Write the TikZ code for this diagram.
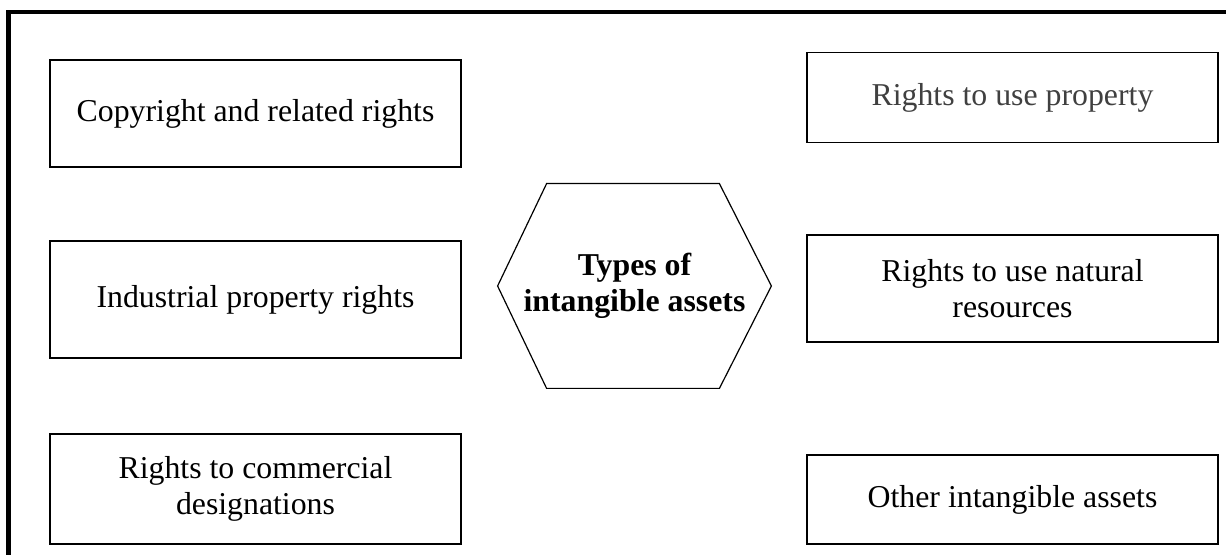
\documentclass[tikz,border=0pt]{standalone}
\usepackage{fontspec}
\setmainfont{Liberation Serif}
\usepackage{tikz}
\usetikzlibrary{calc}

\definecolor{softgray}{HTML}{404040}
\tikzset{
  kind/.style = {draw, line width = 0.75pt, minimum width = 205.5pt, inner sep = 0pt, align = center, font = \fontsize{15.9}{18.2}\selectfont},
  hexlabel/.style = {minimum width = 136.5pt, minimum height = 102pt, inner sep = 0pt, align = center, font = \fontsize{15.9}{18.2}\selectfont\bfseries}
}

\begin{document}
\begin{tikzpicture}[x = 0.5pt, y = -0.5pt]
\useasboundingbox (0,0) rectangle (1226,555);

% open frame
\draw[line width = 2.2pt] (8.5,555) -- (8.5,12) -- (1226,12);

% left column
\node[kind, minimum height = 53.5pt] (copy) at (255.5,113.5) {Copyright and related rights};
\node[kind, minimum height = 58.5pt] (indus) at (255.5,299.5) {Industrial property rights};
\node[kind, minimum height = 55pt] (comm) at (255.5,489) {Rights to commercial\\designations};

% right column
\node[kind, minimum height = 45pt, text = softgray] (useprop) at (1012.5,97.5) {Rights to use property};
\node[kind, minimum height = 53.5pt] (natres) at (1012.5,288.5) {Rights to use natural\\resources};
\node[kind, minimum height = 44.5pt] (other) at (1012.5,499.5) {Other intangible assets};

% centre hexagon
\node[hexlabel] (types) at (634.5,286) {Types of\\intangible assets};
\draw[line width = 0.6pt] (types.west) -- ($(types.north west)+(49,0)$) -- ($(types.north east)+(-52,0)$)
  -- (types.east) -- ($(types.south east)+(-52,0)$) -- ($(types.south west)+(49,0)$) -- cycle;
\end{tikzpicture}
\end{document}
